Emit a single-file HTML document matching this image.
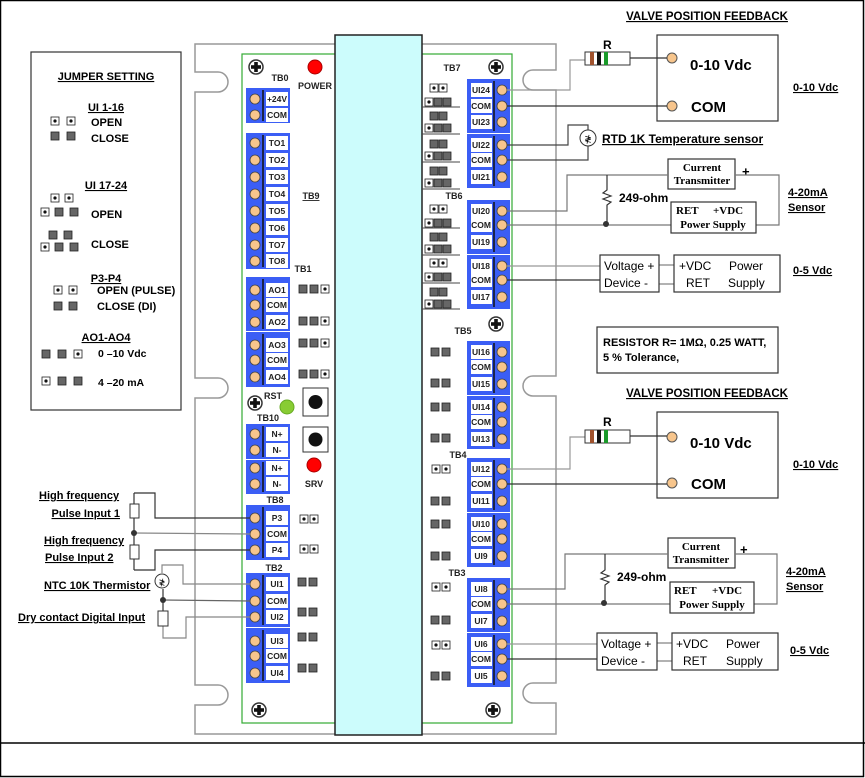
<!DOCTYPE html>
<html><head><meta charset="utf-8"><style>
html,body{margin:0;padding:0;background:#fff}
svg{display:block}
text{font-family:"Liberation Sans",Arial,sans-serif}
.b{font-weight:bold}
.t{font-size:8.5px;font-weight:bold;text-anchor:middle;fill:#222}
.lb{font-size:9px;font-weight:bold;fill:#222}
.s{font-family:"Liberation Serif",serif;font-weight:bold;font-size:11px}
</style></head><body>
<svg width="865" height="778" viewBox="0 0 865 778" xmlns="http://www.w3.org/2000/svg">
<defs>
<g id="j"><rect x="0" y="0" width="8" height="8" fill="#666" stroke="#222" stroke-width="0.8"/></g>
<g id="o"><rect x="0" y="0" width="8" height="8" fill="#fff" stroke="#222" stroke-width="0.8"/><circle cx="4" cy="4" r="1.6" fill="#111"/></g>
<g id="scr"><circle r="7" fill="#fff" stroke="#333" stroke-width="1.5"/><rect x="-5" y="-1.8" width="10" height="3.6" fill="#111"/><rect x="-1.8" y="-5" width="3.6" height="10" fill="#111"/></g>
<g id="cL"><circle cx="255" r="5" fill="#f7c58c" stroke="#444" stroke-width="0.8"/><rect x="266" y="-7" width="22" height="14" fill="#fff"/></g>
<g id="cR"><circle cx="502" r="5" fill="#f7c58c" stroke="#444" stroke-width="0.8"/><rect x="471" y="-7" width="21" height="14" fill="#fff"/></g>
<g id="u3"><use href="#o" x="430" y="0"/><use href="#o" x="439" y="0"/><use href="#o" x="425" y="14"/><use href="#j" x="434" y="14"/><use href="#j" x="443" y="14"/></g>
<g id="c3"><use href="#j" x="430" y="0"/><use href="#j" x="439" y="0"/><use href="#o" x="425" y="12"/><use href="#j" x="434" y="12"/><use href="#j" x="443" y="12"/></g>
</defs>
<!-- page frame -->
<rect x="0.5" y="0.5" width="863" height="776" fill="none" stroke="#000" stroke-width="1.5"/>
<line x1="0" y1="743" x2="865" y2="743" stroke="#000" stroke-width="1.5"/>

<!-- mounting plate -->
<path d="M195,44 H556 V70 H533 a9,9 0 0 0 0,20 H556 V376 H533 a9,9 0 0 0 0,20 H556 V683 H533 a9,9 0 0 0 0,20 H556 V734 H195 V705 H218 a9,9 0 0 0 0,-20 H195 V398 H218 a9,9 0 0 0 0,-20 H195 V92 H218 a9,9 0 0 0 0,-20 H195 Z" fill="#fff" stroke="#999" stroke-width="1.5"/>
<rect x="242" y="54" width="270" height="669" fill="#fff" stroke="#3a3" stroke-width="1.2"/>
<rect x="335" y="35" width="87" height="700" fill="#ccfcfc" stroke="#222" stroke-width="1.5"/>

<!-- jumper setting box -->
<rect x="31" y="52" width="150" height="358" fill="#fff" stroke="#333" stroke-width="1.2"/>
<text x="106" y="80" class="b" font-size="11" text-anchor="middle" text-decoration="underline">JUMPER SETTING</text>
<text x="106" y="111" class="b" font-size="11" text-anchor="middle" text-decoration="underline">UI 1-16</text>
<use href="#o" x="51" y="117"/><use href="#o" x="67" y="117"/><use href="#j" x="51" y="132"/><use href="#j" x="67" y="132"/>
<text x="91" y="126" class="b" font-size="11">OPEN</text><text x="91" y="142" class="b" font-size="11">CLOSE</text>
<text x="106" y="189" class="b" font-size="11" text-anchor="middle" text-decoration="underline">UI 17-24</text>
<use href="#o" x="51" y="194"/><use href="#o" x="65" y="194"/><use href="#o" x="41" y="208"/><use href="#j" x="55" y="208"/><use href="#j" x="70" y="208"/>
<text x="91" y="218" class="b" font-size="11">OPEN</text>
<use href="#j" x="49" y="231"/><use href="#j" x="64" y="231"/><use href="#o" x="41" y="243"/><use href="#j" x="55" y="243"/><use href="#j" x="70" y="243"/>
<text x="91" y="248" class="b" font-size="11">CLOSE</text>
<text x="106" y="282" class="b" font-size="11" text-anchor="middle" text-decoration="underline">P3-P4</text>
<use href="#o" x="54" y="286"/><use href="#o" x="69" y="286"/><use href="#j" x="54" y="302"/><use href="#j" x="69" y="302"/>
<text x="97" y="294" class="b" font-size="11">OPEN (PULSE)</text><text x="97" y="310" class="b" font-size="11">CLOSE (DI)</text>
<text x="106" y="341" class="b" font-size="11" text-anchor="middle" text-decoration="underline">AO1-AO4</text>
<use href="#j" x="42" y="350"/><use href="#j" x="58" y="350"/><use href="#o" x="74" y="350"/>
<text x="98" y="357" class="b" font-size="10.5">0 –10 Vdc</text>
<use href="#o" x="42" y="377"/><use href="#j" x="58" y="377"/><use href="#j" x="74" y="377"/>
<text x="98" y="386" class="b" font-size="10.5">4 –20 mA</text>

<!-- screws, LEDs -->
<use href="#scr" x="256" y="67"/><use href="#scr" x="496" y="67"/><use href="#scr" x="496" y="324"/>
<use href="#scr" x="255" y="403"/><use href="#scr" x="259" y="710"/><use href="#scr" x="493" y="710"/>
<circle cx="315" cy="67" r="7" fill="#f00" stroke="#a00"/><text x="315" y="89" class="lb" text-anchor="middle" font-size="8.5">POWER</text>
<text x="280" y="81" class="lb" text-anchor="middle" font-size="8.5">TB0</text>
<text x="311" y="199" class="lb" text-anchor="middle" text-decoration="underline">TB9</text>
<text x="303" y="272" class="lb" text-anchor="middle" font-size="8.5">TB1</text>
<text x="273" y="399" class="lb" text-anchor="middle" font-size="8.5">RST</text>
<circle cx="287" cy="407" r="7" fill="#8c3" stroke="#6a2"/>
<rect x="303" y="388" width="25" height="28" fill="#fff" stroke="#333"/><circle cx="315.5" cy="402" r="7" fill="#111"/>
<rect x="303" y="427" width="25" height="25" fill="#fff" stroke="#333"/><circle cx="315.5" cy="439.5" r="7" fill="#111"/>
<circle cx="314" cy="465" r="7" fill="#f00" stroke="#a00"/><text x="314" y="487" class="lb" text-anchor="middle" font-size="8.5">SRV</text>
<text x="268" y="421" class="lb" text-anchor="middle" font-size="8.5">TB10</text>
<text x="275" y="503" class="lb" text-anchor="middle" font-size="8.5">TB8</text>
<text x="274" y="571" class="lb" text-anchor="middle" font-size="8.5">TB2</text>

<!-- TB1 jumpers -->
<use href="#j" x="299" y="285"/><use href="#j" x="310" y="285"/><use href="#o" x="321" y="285"/>
<use href="#j" x="299" y="317"/><use href="#j" x="310" y="317"/><use href="#o" x="321" y="317"/>
<use href="#j" x="299" y="339"/><use href="#j" x="310" y="339"/><use href="#o" x="321" y="339"/>
<use href="#j" x="299" y="370"/><use href="#j" x="310" y="370"/><use href="#o" x="321" y="370"/>
<!-- TB8/TB2 jumpers -->
<use href="#o" x="300" y="515"/><use href="#o" x="310" y="515"/><use href="#o" x="300" y="545"/><use href="#o" x="310" y="545"/>
<use href="#j" x="298" y="578"/><use href="#j" x="309" y="578"/><use href="#j" x="298" y="608"/><use href="#j" x="309" y="608"/>
<use href="#j" x="298" y="633"/><use href="#j" x="309" y="633"/><use href="#j" x="298" y="664"/><use href="#j" x="309" y="664"/>

<!-- left blocks -->
<g fill="#3b5ef5">
<rect x="246" y="88" width="44" height="35"/><rect x="246" y="133" width="44" height="136"/>
<rect x="246" y="277" width="44" height="54"/><rect x="246" y="332" width="44" height="55"/>
<rect x="246" y="424" width="44" height="35"/><rect x="246" y="460" width="44" height="34"/>
<rect x="246" y="505" width="44" height="55"/><rect x="246" y="573" width="44" height="54"/><rect x="246" y="628" width="44" height="55"/>
</g>
<g stroke="#111" stroke-width="1.5">
<line x1="263" y1="90" x2="263" y2="121"/><line x1="263" y1="135" x2="263" y2="267"/><line x1="263" y1="279" x2="263" y2="329"/><line x1="263" y1="334" x2="263" y2="385"/>
<line x1="263" y1="426" x2="263" y2="457"/><line x1="263" y1="462" x2="263" y2="492"/><line x1="263" y1="507" x2="263" y2="558"/><line x1="263" y1="575" x2="263" y2="625"/><line x1="263" y1="630" x2="263" y2="681"/>
</g>
<use href="#cL" y="99"/><text x="277" y="102" class="t">+24V</text>
<use href="#cL" y="115"/><text x="277" y="118" class="t">COM</text>
<use href="#cL" y="143"/><text x="277" y="146" class="t">TO1</text>
<use href="#cL" y="160"/><text x="277" y="163" class="t">TO2</text>
<use href="#cL" y="177"/><text x="277" y="180" class="t">TO3</text>
<use href="#cL" y="194"/><text x="277" y="197" class="t">TO4</text>
<use href="#cL" y="211"/><text x="277" y="214" class="t">TO5</text>
<use href="#cL" y="228"/><text x="277" y="231" class="t">TO6</text>
<use href="#cL" y="245"/><text x="277" y="248" class="t">TO7</text>
<use href="#cL" y="261"/><text x="277" y="264" class="t">TO8</text>
<use href="#cL" y="290"/><text x="277" y="293" class="t">AO1</text>
<use href="#cL" y="305"/><text x="277" y="308" class="t">COM</text>
<use href="#cL" y="322"/><text x="277" y="325" class="t">AO2</text>
<use href="#cL" y="345"/><text x="277" y="348" class="t">AO3</text>
<use href="#cL" y="360"/><text x="277" y="363" class="t">COM</text>
<use href="#cL" y="377"/><text x="277" y="380" class="t">AO4</text>
<use href="#cL" y="434"/><text x="277" y="437" class="t">N+</text>
<use href="#cL" y="450"/><text x="277" y="453" class="t">N-</text>
<use href="#cL" y="468"/><text x="277" y="471" class="t">N+</text>
<use href="#cL" y="484"/><text x="277" y="487" class="t">N-</text>
<use href="#cL" y="518"/><text x="277" y="521" class="t">P3</text>
<use href="#cL" y="534"/><text x="277" y="537" class="t">COM</text>
<use href="#cL" y="550"/><text x="277" y="553" class="t">P4</text>
<use href="#cL" y="584"/><text x="277" y="587" class="t">UI1</text>
<use href="#cL" y="601"/><text x="277" y="604" class="t">COM</text>
<use href="#cL" y="617"/><text x="277" y="620" class="t">UI2</text>
<use href="#cL" y="641"/><text x="277" y="644" class="t">UI3</text>
<use href="#cL" y="656"/><text x="277" y="659" class="t">COM</text>
<use href="#cL" y="673"/><text x="277" y="676" class="t">UI4</text>

<!-- right blocks -->
<text x="452" y="71" class="lb" text-anchor="middle" font-size="8.5">TB7</text>
<text x="454" y="199" class="lb" text-anchor="middle" font-size="8.5">TB6</text>
<text x="463" y="334" class="lb" text-anchor="middle" font-size="8.5">TB5</text>
<text x="458" y="458" class="lb" text-anchor="middle" font-size="8.5">TB4</text>
<text x="457" y="576" class="lb" text-anchor="middle" font-size="8.5">TB3</text>
<g fill="#3b5ef5">
<rect x="467" y="79" width="43" height="54"/><rect x="467" y="134" width="43" height="54"/>
<rect x="467" y="200" width="43" height="54"/><rect x="467" y="255" width="43" height="54"/>
<rect x="467" y="341" width="43" height="54"/><rect x="467" y="396" width="43" height="53"/>
<rect x="467" y="458" width="43" height="54"/><rect x="467" y="513" width="43" height="54"/>
<rect x="467" y="578" width="43" height="54"/><rect x="467" y="633" width="43" height="54"/>
</g>
<g stroke="#111" stroke-width="1.5">
<line x1="494" y1="81" x2="494" y2="131"/><line x1="494" y1="136" x2="494" y2="186"/><line x1="494" y1="202" x2="494" y2="252"/><line x1="494" y1="257" x2="494" y2="307"/>
<line x1="494" y1="343" x2="494" y2="393"/><line x1="494" y1="398" x2="494" y2="447"/><line x1="494" y1="460" x2="494" y2="510"/><line x1="494" y1="515" x2="494" y2="565"/>
<line x1="494" y1="580" x2="494" y2="630"/><line x1="494" y1="635" x2="494" y2="685"/>
</g>
<use href="#cR" y="90"/><text x="481" y="93" class="t">UI24</text>
<use href="#cR" y="106"/><text x="481" y="109" class="t">COM</text>
<use href="#cR" y="122"/><text x="481" y="125" class="t">UI23</text>
<use href="#cR" y="145"/><text x="481" y="148" class="t">UI22</text>
<use href="#cR" y="160"/><text x="481" y="163" class="t">COM</text>
<use href="#cR" y="177"/><text x="481" y="180" class="t">UI21</text>
<use href="#cR" y="211"/><text x="481" y="214" class="t">UI20</text>
<use href="#cR" y="225"/><text x="481" y="228" class="t">COM</text>
<use href="#cR" y="242"/><text x="481" y="245" class="t">UI19</text>
<use href="#cR" y="266"/><text x="481" y="269" class="t">UI18</text>
<use href="#cR" y="280"/><text x="481" y="283" class="t">COM</text>
<use href="#cR" y="297"/><text x="481" y="300" class="t">UI17</text>
<use href="#cR" y="352"/><text x="481" y="355" class="t">UI16</text>
<use href="#cR" y="367"/><text x="481" y="370" class="t">COM</text>
<use href="#cR" y="384"/><text x="481" y="387" class="t">UI15</text>
<use href="#cR" y="407"/><text x="481" y="410" class="t">UI14</text>
<use href="#cR" y="422"/><text x="481" y="425" class="t">COM</text>
<use href="#cR" y="439"/><text x="481" y="442" class="t">UI13</text>
<use href="#cR" y="469"/><text x="481" y="472" class="t">UI12</text>
<use href="#cR" y="484"/><text x="481" y="487" class="t">COM</text>
<use href="#cR" y="501"/><text x="481" y="504" class="t">UI11</text>
<use href="#cR" y="524"/><text x="481" y="527" class="t">UI10</text>
<use href="#cR" y="539"/><text x="481" y="542" class="t">COM</text>
<use href="#cR" y="556"/><text x="481" y="559" class="t">UI9</text>
<use href="#cR" y="589"/><text x="481" y="592" class="t">UI8</text>
<use href="#cR" y="604"/><text x="481" y="607" class="t">COM</text>
<use href="#cR" y="621"/><text x="481" y="624" class="t">UI7</text>
<use href="#cR" y="644"/><text x="481" y="647" class="t">UI6</text>
<use href="#cR" y="659"/><text x="481" y="662" class="t">COM</text>
<use href="#cR" y="676"/><text x="481" y="679" class="t">UI5</text>

<!-- right jumpers TB7/TB6 -->
<use href="#u3" y="84"/><use href="#c3" y="112"/><use href="#c3" y="140"/><use href="#c3" y="167"/>
<use href="#u3" y="205"/><use href="#c3" y="233"/><use href="#u3" y="259"/><use href="#c3" y="288"/>
<g stroke="#444" stroke-width="1"><line x1="422" y1="107" x2="460" y2="107"/><line x1="422" y1="134" x2="460" y2="134"/><line x1="422" y1="162" x2="460" y2="162"/><line x1="422" y1="189" x2="460" y2="189"/>
<line x1="422" y1="228" x2="460" y2="228"/><line x1="422" y1="255" x2="460" y2="255"/><line x1="422" y1="283" x2="460" y2="283"/><line x1="422" y1="309" x2="460" y2="309"/></g>
<!-- TB5..TB3 jumpers -->
<use href="#j" x="431" y="348"/><use href="#j" x="442" y="348"/><use href="#j" x="431" y="379"/><use href="#j" x="442" y="379"/>
<use href="#j" x="431" y="403"/><use href="#j" x="442" y="403"/><use href="#j" x="431" y="434"/><use href="#j" x="442" y="434"/>
<use href="#o" x="432" y="465"/><use href="#o" x="442" y="465"/><use href="#j" x="431" y="497"/><use href="#j" x="442" y="497"/>
<use href="#j" x="431" y="520"/><use href="#j" x="442" y="520"/><use href="#j" x="431" y="552"/><use href="#j" x="442" y="552"/>
<use href="#o" x="432" y="583"/><use href="#o" x="442" y="583"/><use href="#j" x="431" y="616"/><use href="#j" x="442" y="616"/>
<use href="#o" x="432" y="641"/><use href="#o" x="442" y="641"/><use href="#j" x="431" y="672"/><use href="#j" x="442" y="672"/>

<!-- ===== right circuits top ===== -->
<text x="707" y="20" class="b" font-size="11.5" text-anchor="middle" text-decoration="underline">VALVE POSITION FEEDBACK</text>
<rect x="657" y="35" width="121" height="86" fill="#fff" stroke="#333" stroke-width="1.2"/>
<circle cx="672" cy="58" r="5" fill="#f7c58c" stroke="#555"/><circle cx="672" cy="106" r="5" fill="#f7c58c" stroke="#555"/>
<text x="690" y="70" class="b" font-size="15">0-10 Vdc</text><text x="691" y="112" class="b" font-size="15">COM</text>
<text x="793" y="91" class="b" font-size="11" text-decoration="underline">0-10 Vdc</text>
<polyline points="507,90 570,90 570,60 585,60" fill="none" stroke="#999" stroke-width="1.2"/>
<line x1="630" y1="58" x2="667" y2="58" stroke="#333" stroke-width="1.2"/>
<line x1="507" y1="106" x2="667" y2="106" stroke="#333" stroke-width="1.2"/>
<rect x="585" y="52" width="45" height="13" fill="#fff" stroke="#333"/>
<rect x="590" y="52" width="4" height="13" fill="#a0522d"/><rect x="597" y="52" width="4" height="13" fill="#111"/><rect x="604" y="52" width="4" height="13" fill="#1a9a2a"/>
<text x="603" y="49" class="b" font-size="12">R</text>
<!-- RTD -->
<polyline points="507,145 568,145 568,125 588,125 588,130" fill="none" stroke="#444" stroke-width="1.2"/>
<polyline points="507,160 588,160 588,146" fill="none" stroke="#444" stroke-width="1.2"/>
<circle cx="588" cy="138" r="8" fill="#fff" stroke="#333"/><text x="588" y="142" font-size="9" text-anchor="middle">≹</text>
<text x="602" y="143" class="b" font-size="12" text-decoration="underline">RTD 1K Temperature sensor</text>
<!-- 4-20 top -->
<rect x="668" y="159" width="67" height="30" fill="#fff" stroke="#333" stroke-width="1.2"/>
<text x="702" y="171" class="s" text-anchor="middle">Current</text><text x="702" y="184" class="s" text-anchor="middle">Transmitter</text>
<text x="742" y="176" class="b" font-size="13">+</text>
<polyline points="507,211 567,211 567,175 668,175" fill="none" stroke="#777" stroke-width="1.2"/>
<polyline points="735,175 779,175 779,225 756,225" fill="none" stroke="#777" stroke-width="1.2"/>
<line x1="507" y1="225" x2="671" y2="225" stroke="#777" stroke-width="1.2"/>
<polyline points="607,175 607,190 603,193 611,196 603,199 611,202 607,205 607,225" fill="none" stroke="#333" stroke-width="1.2"/>
<circle cx="606" cy="224" r="3" fill="#333"/>
<text x="619" y="202" class="b" font-size="12">249-ohm</text>
<rect x="671" y="202" width="85" height="31" fill="#fff" stroke="#333" stroke-width="1.2"/>
<text x="676" y="214" class="s">RET</text><text x="713" y="214" class="s">+VDC</text><text x="713" y="228" class="s" text-anchor="middle">Power Supply</text>
<text x="788" y="196" class="b" font-size="11" text-decoration="underline">4-20mA</text>
<text x="788" y="211" class="b" font-size="11" text-decoration="underline">Sensor</text>
<!-- 0-5 top -->
<line x1="507" y1="266" x2="600" y2="266" stroke="#999" stroke-width="1.2"/>
<line x1="507" y1="280" x2="600" y2="280" stroke="#333" stroke-width="1.2"/>
<line x1="659" y1="265" x2="674" y2="265" stroke="#666"/><line x1="659" y1="284" x2="674" y2="284" stroke="#666"/>
<rect x="600" y="255" width="59" height="37" fill="#fff" stroke="#333" stroke-width="1.2"/>
<rect x="674" y="255" width="106" height="37" fill="#fff" stroke="#333" stroke-width="1.2"/>
<text x="604" y="270" font-size="12">Voltage +</text><text x="604" y="287" font-size="12">Device   -</text>
<text x="679" y="270" font-size="12">+VDC</text><text x="729" y="270" font-size="12">Power</text>
<text x="686" y="287" font-size="12">RET</text><text x="728" y="287" font-size="12">Supply</text>
<text x="793" y="274" class="b" font-size="11" text-decoration="underline">0-5 Vdc</text>

<!-- note box -->
<rect x="597" y="327" width="181" height="46" fill="#fff" stroke="#333" stroke-width="1.2"/>
<text x="603" y="346" class="b" font-size="11">RESISTOR R= 1MΩ, 0.25 WATT,</text>
<text x="603" y="361" class="b" font-size="11">5 % Tolerance,</text>

<!-- ===== right circuits bottom ===== -->
<text x="707" y="397" class="b" font-size="11.5" text-anchor="middle" text-decoration="underline">VALVE POSITION FEEDBACK</text>
<rect x="657" y="412" width="121" height="86" fill="#fff" stroke="#333" stroke-width="1.2"/>
<circle cx="672" cy="437" r="5" fill="#f7c58c" stroke="#555"/><circle cx="672" cy="483" r="5" fill="#f7c58c" stroke="#555"/>
<text x="690" y="448" class="b" font-size="15">0-10 Vdc</text><text x="691" y="489" class="b" font-size="15">COM</text>
<text x="793" y="468" class="b" font-size="11" text-decoration="underline">0-10 Vdc</text>
<polyline points="507,469 570,469 570,437 585,437" fill="none" stroke="#999" stroke-width="1.2"/>
<line x1="630" y1="436" x2="667" y2="436" stroke="#333" stroke-width="1.2"/>
<line x1="507" y1="484" x2="667" y2="484" stroke="#333" stroke-width="1.2"/>
<rect x="585" y="430" width="45" height="13" fill="#fff" stroke="#333"/>
<rect x="590" y="430" width="4" height="13" fill="#a0522d"/><rect x="597" y="430" width="4" height="13" fill="#111"/><rect x="604" y="430" width="4" height="13" fill="#1a9a2a"/>
<text x="603" y="426" class="b" font-size="12">R</text>
<rect x="668" y="538" width="67" height="30" fill="#fff" stroke="#333" stroke-width="1.2"/>
<text x="701" y="550" class="s" text-anchor="middle">Current</text><text x="701" y="563" class="s" text-anchor="middle">Transmitter</text>
<text x="740" y="554" class="b" font-size="13">+</text>
<polyline points="507,589 565,589 565,554 668,554" fill="none" stroke="#777" stroke-width="1.2"/>
<polyline points="735,554 777,554 777,604 754,604" fill="none" stroke="#777" stroke-width="1.2"/>
<line x1="507" y1="604" x2="670" y2="604" stroke="#777" stroke-width="1.2"/>
<polyline points="605,554 605,570 601,573 609,576 601,579 609,582 605,585 605,604" fill="none" stroke="#333" stroke-width="1.2"/>
<circle cx="604" cy="603" r="3" fill="#333"/>
<text x="617" y="581" class="b" font-size="12">249-ohm</text>
<rect x="670" y="582" width="84" height="31" fill="#fff" stroke="#333" stroke-width="1.2"/>
<text x="674" y="594" class="s">RET</text><text x="712" y="594" class="s">+VDC</text><text x="712" y="608" class="s" text-anchor="middle">Power Supply</text>
<text x="786" y="575" class="b" font-size="11" text-decoration="underline">4-20mA</text>
<text x="786" y="590" class="b" font-size="11" text-decoration="underline">Sensor</text>
<line x1="507" y1="644" x2="597" y2="644" stroke="#999" stroke-width="1.2"/>
<line x1="507" y1="659" x2="597" y2="659" stroke="#333" stroke-width="1.2"/>
<line x1="657" y1="643" x2="672" y2="643" stroke="#666"/><line x1="657" y1="661" x2="672" y2="661" stroke="#666"/>
<rect x="597" y="633" width="60" height="37" fill="#fff" stroke="#333" stroke-width="1.2"/>
<rect x="672" y="633" width="106" height="37" fill="#fff" stroke="#333" stroke-width="1.2"/>
<text x="601" y="648" font-size="12">Voltage +</text><text x="601" y="665" font-size="12">Device   -</text>
<text x="676" y="648" font-size="12">+VDC</text><text x="726" y="648" font-size="12">Power</text>
<text x="683" y="665" font-size="12">RET</text><text x="726" y="665" font-size="12">Supply</text>
<text x="790" y="654" class="b" font-size="11" text-decoration="underline">0-5 Vdc</text>

<!-- ===== left field wiring ===== -->
<g class="b" font-size="11" text-decoration="underline">
<text x="39" y="499">High frequency</text><text x="120" y="517" text-anchor="end">Pulse Input 1</text>
<text x="44" y="544">High frequency</text><text x="45" y="561">Pulse Input 2</text>
<text x="44" y="589">NTC 10K Thermistor</text><text x="18" y="621">Dry contact Digital Input</text>
</g>
<polyline points="134,493 155,493 155,518 250,518" fill="none" stroke="#333" stroke-width="1.2"/>
<line x1="134" y1="533" x2="250" y2="534" stroke="#888" stroke-width="1.2"/>
<polyline points="134,570 155,570 155,550 250,550" fill="none" stroke="#333" stroke-width="1.2"/>
<line x1="134" y1="493" x2="134" y2="570" stroke="#333" stroke-width="1.2"/>
<rect x="130" y="504" width="9" height="14" fill="#fff" stroke="#333"/><rect x="130" y="545" width="9" height="14" fill="#fff" stroke="#333"/>
<circle cx="134" cy="533" r="3" fill="#333"/>
<polyline points="162,573 162,565 183,565 183,584 250,584" fill="none" stroke="#888" stroke-width="1.2"/>
<line x1="163" y1="589" x2="163" y2="612" stroke="#333" stroke-width="1.2"/>
<line x1="163" y1="600" x2="250" y2="601" stroke="#666" stroke-width="1.2"/>
<circle cx="163" cy="600" r="3" fill="#333"/>
<circle cx="162" cy="581" r="7" fill="#fff" stroke="#333"/><text x="162" y="585" font-size="8" text-anchor="middle">≹</text>
<polyline points="163,625 163,638 186,638 186,617 250,617" fill="none" stroke="#888" stroke-width="1.2"/>
<rect x="158" y="611" width="10" height="15" fill="#fff" stroke="#333"/>
</svg>
</body></html>
